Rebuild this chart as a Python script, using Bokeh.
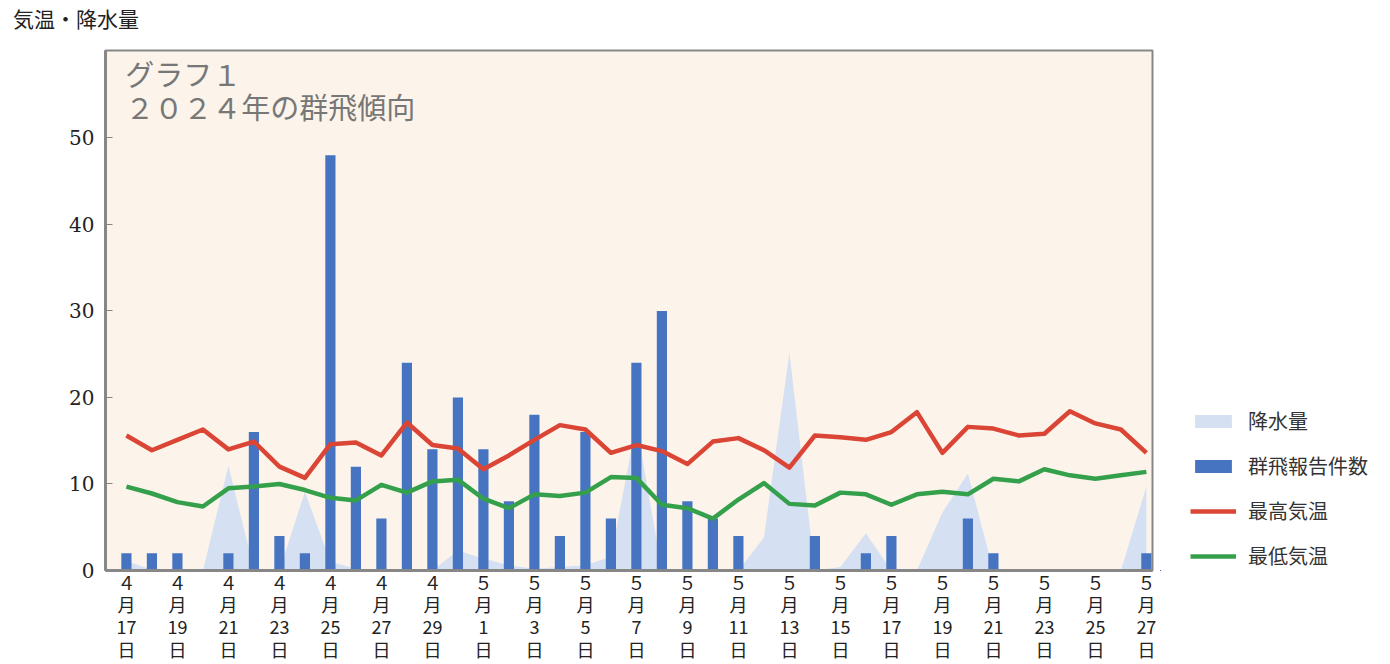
from bokeh.plotting import figure
from bokeh.models import (ColumnDataSource, Legend, LegendItem, FixedTicker, Label, Range1d, Div)
from bokeh.layouts import row, column
from bokeh.embed import file_html
from bokeh.resources import INLINE

# ---- data ----
dates = ["4/17", "4/18", "4/19", "4/20", "4/21", "4/22", "4/23", "4/24", "4/25", "4/26",
         "4/27", "4/28", "4/29", "4/30", "5/1", "5/2", "5/3", "5/4", "5/5", "5/6",
         "5/7", "5/8", "5/9", "5/10", "5/11", "5/12", "5/13", "5/14", "5/15", "5/16",
         "5/17", "5/18", "5/19", "5/20", "5/21", "5/22", "5/23", "5/24", "5/25", "5/26", "5/27"]
reports = [2, 2, 2, 0, 2, 16, 4, 2, 48, 12,
           6, 24, 14, 20, 14, 8, 18, 4, 16, 6,
           24, 30, 8, 6, 4, 0, 0, 4, 0, 2,
           4, 0, 0, 6, 2, 0, 0, 0, 0, 0, 2]
max_temp = [15.6, 13.9, 15.1, 16.3, 14.0, 14.9, 12.0, 10.7, 14.6, 14.8,
            13.3, 17.1, 14.5, 14.1, 11.7, 13.3, 15.1, 16.8, 16.3, 13.6,
            14.5, 13.8, 12.3, 14.9, 15.3, 13.9, 11.9, 15.6, 15.4, 15.1,
            16.0, 18.3, 13.6, 16.6, 16.4, 15.6, 15.8, 18.4, 17.0, 16.3, 13.6]
min_temp = [9.7, 8.9, 7.9, 7.4, 9.5, 9.7, 10.0, 9.3, 8.4, 8.1,
            9.9, 9.0, 10.3, 10.5, 8.3, 7.2, 8.8, 8.6, 9.0, 10.8,
            10.7, 7.6, 7.2, 6.0, 8.2, 10.1, 7.7, 7.5, 9.0, 8.8,
            7.6, 8.8, 9.1, 8.8, 10.6, 10.3, 11.7, 11.0, 10.6, 11.0, 11.4]
precip = [1.1, 0.1, 0, 0, 12.1, 0.2, 0, 9.1, 1.0, 0.2,
          0, 0, 0, 2.3, 1.4, 0.6, 0.2, 0.4, 0.6, 1.6,
          17.0, 0, 0, 0, 0, 3.8, 25.2, 0, 0.4, 4.3,
          0, 0, 6.7, 11.2, 0, 0, 0, 0, 0, 0, 9.7]
tick_labels = ["４\n月\n17\n日", "４\n月\n19\n日", "４\n月\n21\n日", "４\n月\n23\n日",
               "４\n月\n25\n日", "４\n月\n27\n日", "４\n月\n29\n日", "５\n月\n1\n日",
               "５\n月\n3\n日", "５\n月\n5\n日", "５\n月\n7\n日", "５\n月\n9\n日",
               "５\n月\n11\n日", "５\n月\n13\n日", "５\n月\n15\n日", "５\n月\n17\n日",
               "５\n月\n19\n日", "５\n月\n21\n日", "５\n月\n23\n日", "５\n月\n25\n日",
               "５\n月\n27\n日"]
y_ticks = [0, 10, 20, 30, 40, 50]
series_names = ["降水量", "群飛報告件数", "最高気温", "最低気温"]
chart_title = "気温・降水量"
inner_title = "グラフ１\n２０２４年の群飛傾向"

# ---- styling ----
JP = "Noto Sans CJK JP"
BG = "#FCF4EA"
C_AREA = "#D5E1F2"
C_BAR = "#4674C1"
C_MAX = "#DB4535"
C_MIN = "#35A04C"
AX = "#878787"
TOP = 34
H = 664 - TOP

idx = list(range(len(dates)))
src = ColumnDataSource(dict(x=idx, date=dates, reports=reports, tmax=max_temp,
                            tmin=min_temp, rain=precip))

head = Div(text=chart_title, width=400, height=32, margin=(2, 0, 0, 13),
           styles={"font-family": JP, "font-size": "21px", "color": "#222222",
                   "line-height": "32px", "white-space": "nowrap"})

p = figure(width=1160, height=H, output_backend="svg", toolbar_location=None,
           x_range=Range1d(-0.82, 40.24), y_range=Range1d(0, 60.1),
           min_border_left=105, min_border_right=8, min_border_top=50 - TOP, min_border_bottom=92)
p.border_fill_color = "white"
p.background_fill_color = BG
p.outline_line_color = AX
p.outline_line_width = 2
p.grid.visible = False


def draw(fig):
    a = fig.varea(x="x", y1=0, y2="rain", source=src, fill_color=C_AREA)
    b = fig.vbar(x="x", top="reports", width=0.4, source=src, fill_color=C_BAR, line_color=None)
    m = fig.line(x="x", y="tmax", source=src, line_color=C_MAX, line_width=4.5, line_join="round")
    n = fig.line(x="x", y="tmin", source=src, line_color=C_MIN, line_width=4.5, line_join="round")
    return a, b, m, n


draw(p)

# axes
xa = p.xaxis[0]
xa.ticker = FixedTicker(ticks=idx[::2])
xa.major_label_overrides = {i: lab for i, lab in zip(idx[::2], tick_labels)}
xa.axis_line_color = AX
xa.axis_line_width = 3
xa.major_tick_line_color = None
xa.minor_tick_line_color = None
xa.major_label_text_font = JP
xa.major_label_text_font_size = "18px"
xa.major_label_text_color = "#222222"
xa.major_label_text_line_height = 0.86
xa.major_label_standoff = -8

ya = p.yaxis[0]
ya.ticker = FixedTicker(ticks=y_ticks)
ya.axis_line_color = AX
ya.axis_line_width = 3
ya.major_tick_in = 7
ya.major_tick_out = 0
ya.major_tick_line_color = AX
ya.minor_tick_line_color = None
ya.major_label_text_font = "DejaVu Serif"
ya.major_label_text_font_size = "20px"
ya.major_label_text_color = "#222222"
ya.major_label_standoff = 11

p.add_layout(Label(x=-0.05, y=59.95, text=inner_title, text_font=JP, text_font_size="29px",
                   text_color="#777777", text_baseline="top", text_line_height=0.79))

# legend panel (separate figure so the legend is not clipped)
q = figure(width=222, height=H, output_backend="svg", toolbar_location=None,
           x_axis_type=None, y_axis_type=None, x_range=Range1d(1000, 1001),
           y_range=Range1d(1000, 1001), min_border=0)
q.outline_line_color = None
q.background_fill_color = "white"
q.border_fill_color = "white"
q.grid.visible = False
ra, rb, rm, rn = draw(q)

legend = Legend(items=[LegendItem(label=series_names[0], renderers=[ra]),
                       LegendItem(label=series_names[1], renderers=[rb]),
                       LegendItem(label=series_names[2], renderers=[rm]),
                       LegendItem(label=series_names[3], renderers=[rn])],
                location=(30, 0), padding=2, spacing=16, glyph_width=46, glyph_height=16,
                label_height=24, label_standoff=12, label_text_font=JP,
                label_text_font_size="20px", label_text_color="#333333",
                border_line_color=None, background_fill_alpha=0)
q.add_layout(legend, "center")

layout = column(head, row(p, q, spacing=0), spacing=0)
open("out.html", "w").write(file_html(layout, INLINE))
